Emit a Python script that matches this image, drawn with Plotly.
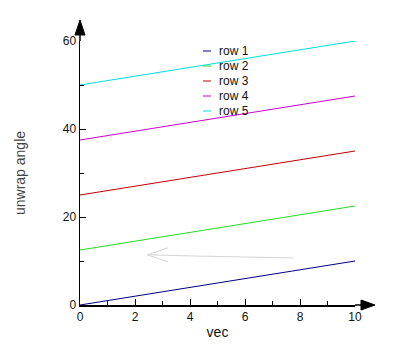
import plotly.graph_objects as go

vec = [0, 1, 2, 3, 4, 5, 6, 7, 8, 9, 10]
row_names = ["row 1", "row 2", "row 3", "row 4", "row 5"]
row1 = [0, 1, 2, 3, 4, 5, 6, 7, 8, 9, 10]
row2 = [12.5, 13.5, 14.5, 15.5, 16.5, 17.5, 18.5, 19.5, 20.5, 21.5, 22.5]
row3 = [25, 26, 27, 28, 29, 30, 31, 32, 33, 34, 35]
row4 = [37.5, 38.5, 39.5, 40.5, 41.5, 42.5, 43.5, 44.5, 45.5, 46.5, 47.5]
row5 = [50, 51, 52, 53, 54, 55, 56, 57, 58, 59, 60]
rows = [row1, row2, row3, row4, row5]
colors = ["#000080", "#22dd22", "#c00000", "#cc00cc", "#00dddd"]
x_ticks = [0, 2, 4, 6, 8, 10]
y_ticks = [0, 20, 40, 60]
# faint annotation arrow (tip, upper arm end, lower arm end, tail) in data units
arrow_tip = (2.45, 11.4)
arrow_arm_up = (3.2, 13.0)
arrow_arm_dn = (3.2, 9.8)
arrow_mid = (4.4, 11.1)
arrow_tail = (7.75, 10.7)

L, R, T, B = 80, 41, 41, 51
W, H = 396, 356
pw, ph = W - L - R, H - T - B

def px(xp):
    return (xp - L) / pw

def py(yp):
    return (H - B - yp) / ph

fig = go.Figure()
for name, ys, c in zip(row_names, rows, colors):
    fig.add_trace(go.Scatter(x=vec, y=ys, mode="lines", name=name,
                             line=dict(color=c, width=1), showlegend=False,
                             hoverinfo="skip"))

font = dict(family="Liberation Sans, Arial, sans-serif", size=12, color="#111111")

fig.update_layout(
    width=W, height=H,
    margin=dict(l=L, r=R, t=T, b=B, autoexpand=False),
    paper_bgcolor="white", plot_bgcolor="white",
    font=font,
    hovermode=False,
    xaxis=dict(range=[0, 10], tickvals=x_ticks, ticks="inside", ticklen=6,
               tickcolor="black", showline=True, linecolor="black", linewidth=1.5,
               showgrid=False, zeroline=False,
               minor=dict(dtick=1, ticks="inside", ticklen=4, tickcolor="black"),
               title=dict(text="vec", font=dict(size=14), standoff=4)),
    yaxis=dict(range=[0, 60], tickvals=y_ticks, ticks="inside", ticklen=6,
               tickcolor="black", showline=True, linecolor="black", linewidth=1.5,
               showgrid=False, zeroline=False,
               minor=dict(dtick=10, ticks="inside", ticklen=4, tickcolor="black"),
               title=dict(text="unwrap angle", font=dict(size=14, color="#444444"), standoff=34)),
)

# axis arrows
fig.add_shape(type="line", xref="paper", yref="paper", x0=1, x1=px(362), y0=0, y1=0,
              line=dict(color="black", width=1.5))
fig.add_shape(type="path", xref="paper", yref="paper",
              path=f"M {px(361)} {py(300)} L {px(375)} {py(305)} L {px(361)} {py(310)} Z",
              fillcolor="black", line=dict(color="black", width=1))
fig.add_shape(type="line", xref="paper", yref="paper", x0=0, x1=0, y0=1, y1=py(34),
              line=dict(color="black", width=1.5))
fig.add_shape(type="path", xref="paper", yref="paper",
              path=f"M {px(75)} {py(35)} L {px(80)} {py(20)} L {px(85)} {py(35)} Z",
              fillcolor="black", line=dict(color="black", width=1))

# faint open arrow
arrow_style = dict(color="#d4d4d4", width=1)
for p0, p1 in [(arrow_tip, arrow_mid), (arrow_mid, arrow_tail),
               (arrow_tip, arrow_arm_up), (arrow_tip, arrow_arm_dn)]:
    fig.add_shape(type="line", xref="x", yref="y", x0=p0[0], y0=p0[1], x1=p1[0], y1=p1[1],
                  line=arrow_style)

# legend
for i, (name, c) in enumerate(zip(row_names, colors)):
    yp = 51 + 15 * i
    fig.add_shape(type="line", xref="paper", yref="paper",
                  x0=px(203), x1=px(211), y0=py(yp), y1=py(yp),
                  line=dict(color=c, width=1))
    fig.add_annotation(x=px(217), y=py(yp), xref="paper", yref="paper",
                       text=name, showarrow=False, xanchor="left", yanchor="middle",
                       font=dict(size=12, color="#111111"))

fig.write_html("out.html", config={"displayModeBar": False, "staticPlot": True},
               post_script="document.body.style.margin='0';document.body.style.overflow='hidden';")
